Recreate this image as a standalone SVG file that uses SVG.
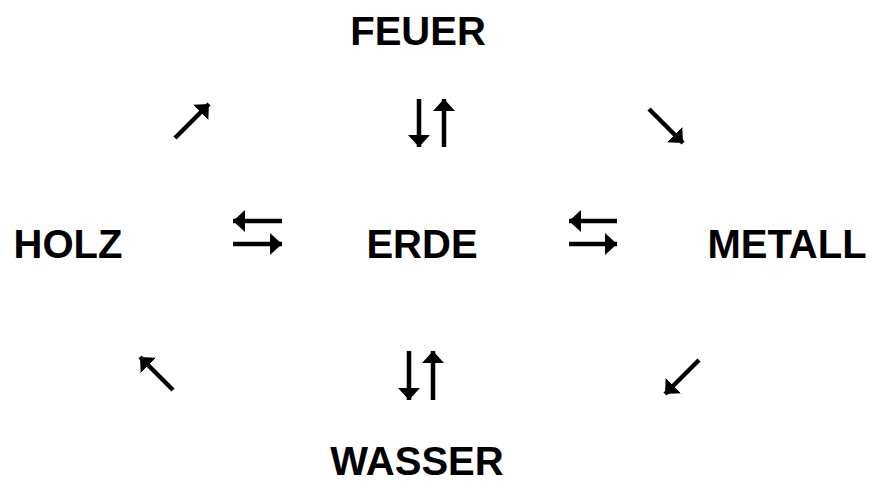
<svg xmlns="http://www.w3.org/2000/svg" width="880" height="487" viewBox="0 0 880 487">
<style>
.lbl{font-family:"Liberation Sans",Arial,sans-serif;font-weight:bold;font-size:40px;fill:#000;text-anchor:middle}
.arr{stroke:#000;stroke-width:4.5;fill:none;marker-end:url(#head)}
</style>
<defs>
<marker id="head" viewBox="0 0 12 22" refX="12" refY="11" markerWidth="12" markerHeight="22" markerUnits="userSpaceOnUse" orient="auto">
<path d="M0,0 L12,11 L0,22 Z" fill="#000"/>
</marker>
</defs>
<rect width="880" height="487" fill="#fff"/>
<g id="feuer"><text class="lbl" x="418" y="45">FEUER</text></g>
<g id="holz"><text class="lbl" x="68" y="258">HOLZ</text></g>
<g id="erde"><text class="lbl" x="422" y="258">ERDE</text></g>
<g id="metall"><text class="lbl" x="787" y="258">METALL</text></g>
<g id="wasser"><text class="lbl" x="417" y="475">WASSER</text></g>
<g id="connectors">
<path class="arr" d="M175,138 L209,104"/>
<path class="arr" d="M649,109 L683,143"/>
<path class="arr" d="M173,390 L140,357"/>
<path class="arr" d="M699,360 L665,394"/>
<path class="arr" d="M419,99 L419,147"/>
<path class="arr" d="M444,147 L444,99"/>
<path class="arr" d="M409,351 L409,400"/>
<path class="arr" d="M433,400 L433,351"/>
<path class="arr" d="M282,221 L233,221"/>
<path class="arr" d="M233,244 L282,244"/>
<path class="arr" d="M617,221 L569,221"/>
<path class="arr" d="M569,244 L617,244"/>
</g>
</svg>
